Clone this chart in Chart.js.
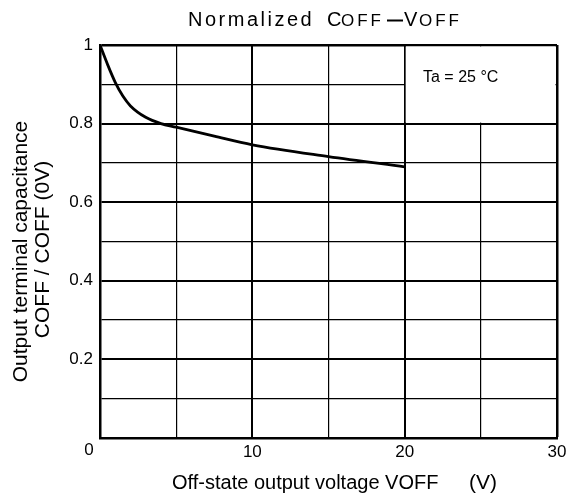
<!DOCTYPE html>
<html>
<head>
<meta charset="utf-8">
<script src="https://cdn.jsdelivr.net/npm/chart.js@4"></script>
<style>
html,body{margin:0;padding:0;background:#fff;}
canvas{display:block;}
</style>
</head>
<body>
<canvas id="c" width="575" height="501"></canvas>
<script>
// Data
const voltages = [0, 0.5, 1, 1.5, 2, 3, 4, 5, 7.5, 10, 15, 20];
const coffRatio = [1.0, 0.95, 0.905, 0.87, 0.845, 0.816, 0.8, 0.791, 0.768, 0.746, 0.716, 0.690];
const xTickLabels = [10, 20, 30];
const yTickLabels = [0.2, 0.4, 0.6, 0.8, 1];
const ambientLabel = 'Ta = 25 °C';

const FONT = '"Liberation Sans", Arial, sans-serif';

const decorPlugin = {
  id: 'decor',
  beforeDatasetsDraw(chart) {
    const {ctx, scales: {x, y}} = chart;
    const l = x.getPixelForValue(20), r = x.getPixelForValue(30);
    const t = y.getPixelForValue(1), b = y.getPixelForValue(0.8);
    ctx.save();
    ctx.fillStyle = '#fff';
    ctx.fillRect(l + 1, t + 1.5, r - l - 2.5, b - t - 2.5);
    ctx.restore();
  },
  afterDraw(chart) {
    const {ctx, scales: {x, y}} = chart;
    ctx.save();
    ctx.fillStyle = '#000';
    ctx.textBaseline = 'middle';
    ctx.textAlign = 'left';
    // Title
    ctx.font = '20px ' + FONT;
    ctx.letterSpacing = '2.5px';
    ctx.fillText('Normalized', 188, 20);
    ctx.letterSpacing = '0px';
    ctx.fillText('C', 327, 20);
    ctx.font = '17px ' + FONT;
    ctx.letterSpacing = '3px';
    ctx.fillText('OFF', 341, 21);
    ctx.font = '20px ' + FONT;
    ctx.letterSpacing = '0px';
    ctx.fillText('V', 404, 20);
    ctx.font = '17px ' + FONT;
    ctx.letterSpacing = '3px';
    ctx.fillText('OFF', 419, 21);
    ctx.letterSpacing = '0px';
    ctx.lineWidth = 2;
    ctx.beginPath();
    ctx.moveTo(387, 20.5);
    ctx.lineTo(403, 20.5);
    ctx.stroke();

    // Ambient label in box
    ctx.font = '16px ' + FONT;
    ctx.fillText(ambientLabel, 423, 78);

    // Origin label
    ctx.font = '17px ' + FONT;
    ctx.textAlign = 'center';
    ctx.fillText('0', x.getPixelForValue(0) - 11, 450);

    // X axis title
    ctx.font = '20px ' + FONT;
    ctx.textAlign = 'left';
    ctx.fillText('Off-state output voltage VOFF', 172, 483);
    ctx.font = '21px ' + FONT;
    ctx.fillText('(V)', 469, 483);

    // Y axis title
    ctx.font = '21px ' + FONT;
    ctx.translate(21.5, 251.5);
    ctx.rotate(-Math.PI / 2);
    ctx.textAlign = 'center';
    ctx.fillText('Output terminal capacitance', 0, 0);
    ctx.fillText('COFF / COFF (0V)', 2, 22);
    ctx.restore();
  }
};

new Chart(document.getElementById('c'), {
  type: 'line',
  data: {
    labels: voltages,
    datasets: [{
      data: voltages.map((v, i) => ({x: v, y: coffRatio[i]})),
      borderColor: '#000',
      borderWidth: 2.8,
      pointRadius: 0,
      fill: false,
      cubicInterpolationMode: 'monotone'
    }]
  },
  options: {
    responsive: false,
    devicePixelRatio: 1,
    animation: false,
    layout: {padding: {top: 45, right: 18, left: 0, bottom: 0}},
    plugins: {legend: {display: false}, tooltip: {enabled: false}, title: {display: false}},
    scales: {
      x: {
        type: 'linear', min: 0, max: 30,
        afterFit: s => { s.height = 63; },
        ticks: {
          stepSize: 5,
          padding: 4,
          color: '#000',
          font: {family: FONT, size: 17},
          maxRotation: 0,
          autoSkip: false,
          callback: v => xTickLabels.includes(v) ? String(v) : ''
        },
        grid: {
          color: '#000',
          drawTicks: false,
          lineWidth: c => {
            const v = c.tick ? c.tick.value : 0;
            if (v === 30) return 2.5;
            return v % 10 === 0 ? 2 : 1.2;
          }
        },
        border: {color: '#000', width: 2.5}
      },
      y: {
        type: 'linear', min: 0, max: 1,
        afterFit: s => { s.width = 100; },
        ticks: {
          stepSize: 0.1,
          padding: 7,
          color: '#000',
          font: {family: FONT, size: 17},
          autoSkip: false,
          callback: v => {
            const r = Math.round(v * 10) / 10;
            return yTickLabels.includes(r) ? String(r) : '';
          }
        },
        grid: {
          color: '#000',
          drawTicks: false,
          lineWidth: c => {
            const v = c.tick ? Math.round(c.tick.value * 10) : 0;
            if (v === 10) return 2.5;
            return v % 2 === 0 ? 2 : 1.2;
          }
        },
        border: {color: '#000', width: 2.5}
      }
    }
  },
  plugins: [decorPlugin]
});
</script>
</body>
</html>
